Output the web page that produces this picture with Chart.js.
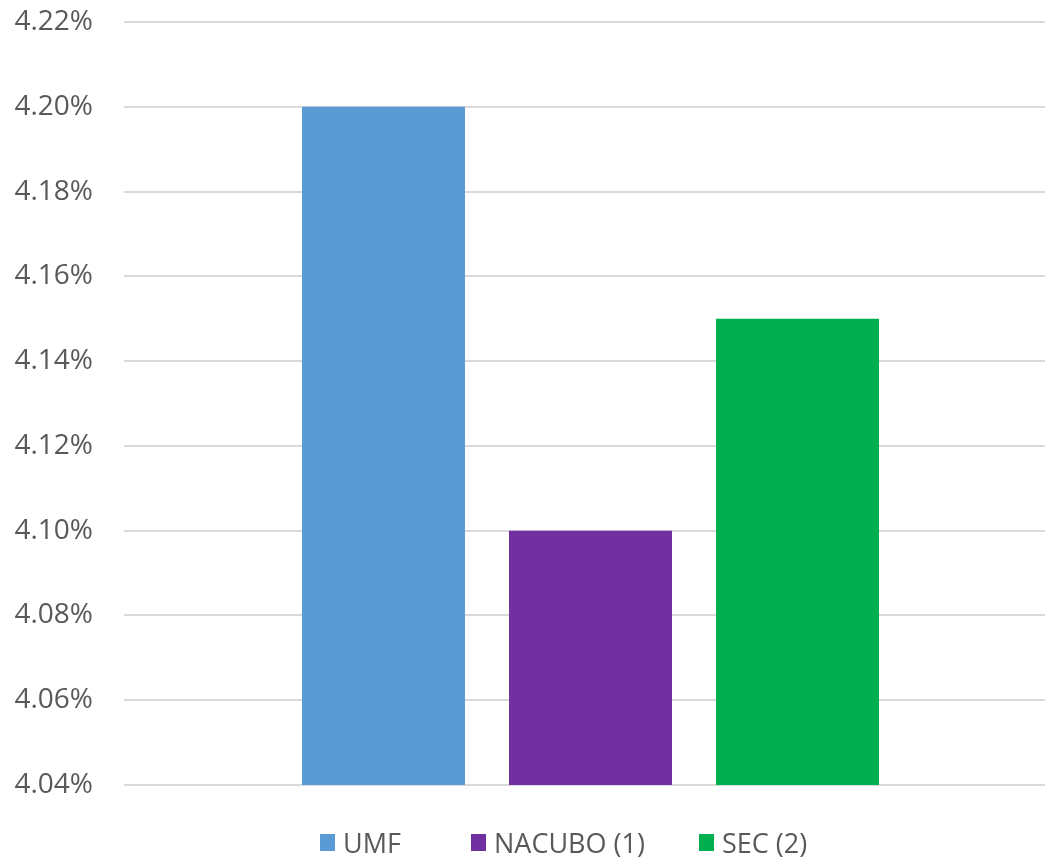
<!DOCTYPE html>
<html>
<head>
<meta charset="utf-8">
<script src="https://cdn.jsdelivr.net/npm/chart.js@4/dist/chart.umd.min.js"></script>
<style>
  html, body { margin: 0; padding: 0; background: #fff; overflow: hidden; }
  #wrap { position: relative; width: 1058px; height: 858px; }
  #legend { position: absolute; left: 320px; top: 828px; display: flex; font-family: "Open Sans", sans-serif; font-size: 27px; color: #595959; }
  .lg-item { display: flex; align-items: center; height: 28px; }
  .lg-box { width: 15px; height: 17px; margin-right: 8px; }
</style>
</head>
<body>
<div id="wrap">
  <canvas id="chart"></canvas>
  <div id="legend"></div>
</div>
<script>
const SERIES = ['UMF', 'NACUBO (1)', 'SEC (2)'];
const VALUES = [4.20, 4.10, 4.15];
const COLORS = ['#5B9BD5', '#7030A0', '#00B050'];
const Y_MIN = 4.04;
const Y_MAX = 4.22;
const Y_STEP = 0.02;

// largeur de chaque entree de legende (position des carres)
const LEGEND_WIDTHS = [151, 228, 200];

new Chart(document.getElementById('chart'), {
  type: 'bar',
  data: {
    labels: [''],
    datasets: SERIES.map((s, i) => ({ label: s, data: [VALUES[i]], backgroundColor: COLORS[i] })),
  },
  options: {
    responsive: true,
    maintainAspectRatio: false,
    animation: false,
    layout: { padding: { top: 22, bottom: 73, left: 0, right: 1 } },
    datasets: { bar: { categoryPercentage: 0.6656, barPercentage: 0.7874 } },
    plugins: { legend: { display: false }, tooltip: { enabled: false } },
    scales: {
      x: { display: false },
      y: {
        min: Y_MIN, max: Y_MAX,
        border: { display: false },
        grid: { color: '#d9d9d9', lineWidth: 2, drawTicks: false },
        ticks: {
          stepSize: Y_STEP, padding: 31, color: '#595959',
          font: { family: 'Open Sans', size: 28 },
          callback: v => v.toFixed(2) + '%',
        },
        afterFit: scale => { scale.width = 124; scale.paddingTop = 0; scale.paddingBottom = 0; },
      },
    },
  },
});

document.getElementById('legend').innerHTML = SERIES.map((s, i) => `
  <div class="lg-item" style="width:${LEGEND_WIDTHS[i]}px">
    <div class="lg-box" style="background:${COLORS[i]}"></div><span>${s}</span>
  </div>`).join('');
</script>
</body>
</html>
